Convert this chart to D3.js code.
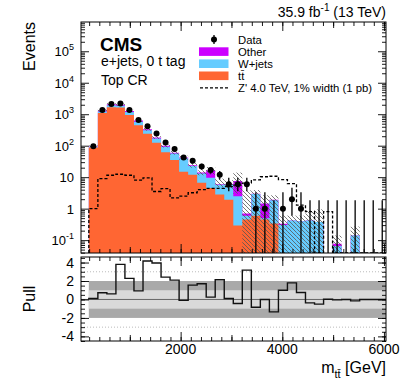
<!DOCTYPE html>
<html>
<head>
<meta charset="utf-8">
<script src="https://cdn.jsdelivr.net/npm/d3@7"></script>
<style>
body{margin:0;background:#fff;}
svg{font-family:"Liberation Sans",Arial,Helvetica,sans-serif;}
</style>
</head>
<body>
<div class="box"></div>
<script>
// bin edges in GeV (33 bins)
const binEdges=[194,372,549,727,904,1082,1260,1437,1615,1792,1970,2148,2325,2503,2680,2858,3036,3213,3391,3568,3746,3924,4101,4279,4456,4634,4812,4989,5167,5344,5522,5700,5877,6055];
const ttbar=[88,1090,1660,1620,950,450,240,125,62,35,15,12,6.7,4.5,2.8,1.9,0.29,0.45,0.6,0.45,0.34,0,0,0,0,0,0,0,0,0,0,0,0];
const wjets=[4,130,250,240,220,130,70,45,30,21,25,10.8,6.5,5,2.9,3.9,2.2,0.15,2.3,0.05,1.5,0.3,0.42,0.4,0.42,0.38,0,0.065,0,0.14,0,0,0];
const other=[3,100,160,150,96,46,23,13,7,4,2,1.2,0.8,7,0.3,0.2,5,0.1,0.1,0.95,0.06,0.03,0,0,0,0,0,0.012,0,0,0,0,0];
const bandLo=[88,1220,1900,1850,1160,570,300,165,88,52,36,20,11.5,12,4.8,4.3,3,0,0,0,0,0,0,0,0,0,0,0,0,0,0,0,0];
const bandHi=[102,1430,2240,2180,1370,680,365,200,110,68,48,28,16.5,21,9,8,14,3.8,3.9,2.65,2.65,0.61,0.6,0.6,0.88,0.95,0,0.14,0,0.27,0,0,0];
const dataObs=[96,1350,2100,2190,1350,650,418,245,126,79,42,33,22,17,12,6,6,6,1,1,0,1,2,1,0,0,0,0,0,0,0,0,0];
const dataLo=[86,1313,2054,2143,1313,625,398,229,115,70,35.6,27.3,17.3,12.9,8.5,3.6,3.6,3.6,0,0,0,0,0.6,0,0,0,0,0,0,0,0,0,0];
const dataHi=[106,1387,2146,2237,1387,676,439,261,138,88,48.5,38.8,26.7,21.2,15.6,9.6,9.6,9.6,3.3,3.3,1.84,3.3,4.64,3.3,1.84,1.84,1.84,1.84,1.84,1.84,1.84,1.84,1.84];
const zprime=[1,9,11.5,12.4,11.5,8,9.5,3.5,4.3,2.2,2.5,3.2,4,4.4,4.4,5,5.6,6.5,8.2,10.3,10.7,8.4,6.2,1.3,0.8,0,0.8,0,0,0,0,0,0];
const pull=[0.1,0.72,0.6,3.8,2.28,0.93,4.16,3.95,2.42,2.1,-0.1,1.55,1.7,0.25,2.13,0.1,-0.43,3.18,-0.84,0,-1.34,1,1.8,0.76,-0.37,-0.5,0.03,-0.05,0,-0.15,0,0,0];
const xLabels=[2000,4000,6000];
const logLabels=[[0.1,'10','-1'],[1,'1',''],[10,'10',''],[100,'10','2'],[1000,'10','3'],[1e4,'10','4'],[1e5,'10','5']];
const pullLabels=[4,2,0,-2,-4];

const L=81,R=386,T=22,B=253,PT=257,PB=341;
const svg=d3.select('.box').append('svg').attr('width',411).attr('height',387);
const x=d3.scaleLinear().domain([40,6040]).range([L,R]);
const y=d3.scaleLog().domain([0.039,8.5e5]).range([B,T]);
const yp=d3.scaleLinear().domain([-4.5,4.6]).range([PB,PT]);
const yMin=y.domain()[0];
const yv=v=>y(Math.max(v,yMin));

const defs=svg.append('defs');
defs.append('clipPath').attr('id','cm').append('rect').attr('x',L).attr('y',T).attr('width',R-L).attr('height',B-T);
defs.append('clipPath').attr('id','cp').append('rect').attr('x',L).attr('y',PT).attr('width',R-L).attr('height',PB-PT);
defs.append('pattern').attr('id','hatch').attr('patternUnits','userSpaceOnUse')
    .attr('width',4).attr('height',4)
    .append('path').attr('d','M-1,-1L5,5M3,-1L5,1M-1,3L1,5')
    .attr('stroke','#555').attr('stroke-width',0.8);

const bins=ttbar.map((t,i)=>({lo:binEdges[i],hi:binEdges[i+1],tt:t,w:wjets[i],o:other[i]}));
const stack=d3.stack().keys(['tt','w','o'])(bins);
const couleur={tt:'#ff6633',w:'#66ccff',o:'#cc00ff'};

const main=svg.append('g').attr('clip-path','url(#cm)');
const stepPts=vals=>{
    const p=vals.map((v,i)=>[binEdges[i],v]);
    p.push([binEdges[vals.length],vals[vals.length-1]]);
    return p;
};
const area=d3.area().curve(d3.curveStepAfter)
    .x(d=>x(d[0])).y0(B).y1(d=>yv(d[1]));
// draw cumulative layers back to front
stack.slice().reverse().forEach(layer=>{
    main.append('path')
        .attr('d',area(stepPts(layer.map(d=>d[1]))))
        .attr('fill',couleur[layer.key]);
});

// uncertainty band
main.selectAll('rect.unc').data(bins.filter((b,i)=>bandHi[i]>0).map(b=>({b,i:bins.indexOf(b)})))
    .enter().append('rect').attr('class','unc')
    .attr('x',d=>x(d.b.lo)).attr('width',d=>x(d.b.hi)-x(d.b.lo))
    .attr('y',d=>yv(bandHi[d.i])).attr('height',d=>yv(bandLo[d.i])-yv(bandHi[d.i]))
    .attr('fill','url(#hatch)');

// Z' signal
const zPts=[[binEdges[0],0]].concat(stepPts(zprime));
zPts.push([binEdges[zprime.length],0]);
main.append('path')
    .attr('d',d3.line().curve(d3.curveStepAfter).x(d=>x(d[0])).y(d=>yv(d[1]))(zPts))
    .attr('fill','none').attr('stroke','#000').attr('stroke-width',1.3)
    .attr('stroke-dasharray','3,2');

// data
const pts=dataObs.map((n,i)=>({n,cx:(binEdges[i]+binEdges[i+1])/2,lo:dataLo[i],hi:dataHi[i]}));
main.selectAll('line.err').data(pts).enter().append('line').attr('class','err')
    .attr('x1',d=>x(d.cx)).attr('x2',d=>x(d.cx))
    .attr('y1',d=>yv(d.lo)).attr('y2',d=>yv(d.hi))
    .attr('stroke','#000').attr('stroke-width',1.3);
main.selectAll('circle').data(pts.filter(d=>d.n>0)).enter().append('circle')
    .attr('cx',d=>x(d.cx)).attr('cy',d=>y(d.n)).attr('r',3).attr('fill','#000');

// ---- pull pad
const pg=svg.append('g').attr('clip-path','url(#cp)');
const xs=x(binEdges[0]);
[[2,'#a9a9a9'],[1,'#d9d9d9']].forEach(([s,c])=>{
    pg.append('rect').attr('x',xs).attr('width',R-xs)
      .attr('y',yp(s)).attr('height',yp(-s)-yp(s)).attr('fill',c);
});
[3,-3].forEach(v=>{
    pg.append('line').attr('x1',L).attr('x2',R).attr('y1',yp(v)).attr('y2',yp(v))
      .attr('stroke','#bbb').attr('stroke-width',1).attr('stroke-dasharray','1,2');
});
pg.append('line').attr('x1',L).attr('x2',R).attr('y1',yp(0)).attr('y2',yp(0))
    .attr('stroke','#666').attr('stroke-width',1);
pg.append('path')
    .attr('d',d3.line().curve(d3.curveStepAfter).x(d=>x(d[0])).y(d=>yp(d[1]))([[binEdges[0],0]].concat(stepPts(pull))))
    .attr('fill','none').attr('stroke','#111').attr('stroke-width',1.4);

// ---- ticks
const tickAx=(ax,tr,size)=>{
    const g=svg.append('g').attr('transform',tr).call(ax.tickSizeInner(size).tickSizeOuter(0).tickFormat(''));
    g.select('.domain').remove();
    g.selectAll('line').attr('stroke','#000').attr('stroke-width',0.9);
};
const xMinor=d3.range(200,6040,200), xMid=[1000,3000,5000], xMaj=[2000,4000,6000];
[[B,PT],[PB,PB]].forEach(()=>{});
[[B,d3.axisBottom,-1],[T,d3.axisTop,-1],[PB,d3.axisBottom,-1],[PT,d3.axisTop,-1]].forEach(([yy,fn])=>{
    tickAx(fn(x).tickValues(xMinor),`translate(0,${yy})`,-4);
    tickAx(fn(x).tickValues(xMid),`translate(0,${yy})`,-6);
    tickAx(fn(x).tickValues(xMaj),`translate(0,${yy})`,-9);
});
const decades=d3.range(-1,6).map(e=>Math.pow(10,e));
const minors=[];
d3.range(-2,6).forEach(e=>d3.range(2,10).forEach(k=>{const v=k*Math.pow(10,e);if(v>yMin&&v<8.5e5)minors.push(v);}));
[[L,d3.axisLeft],[R,d3.axisRight]].forEach(([xx,fn])=>{
    tickAx(fn(y).tickValues(minors),`translate(${xx},0)`,-4);
    tickAx(fn(y).tickValues(decades),`translate(${xx},0)`,-8);
    tickAx(fn(yp).tickValues(d3.range(-4.5,4.6,0.5)),`translate(${xx},0)`,-4);
    tickAx(fn(yp).tickValues([-4,-2,0,2,4]),`translate(${xx},0)`,-8);
});

// frames
[[T,B],[PT,PB]].forEach(([a,b])=>{
    svg.append('rect').attr('x',L).attr('y',a).attr('width',R-L).attr('height',b-a)
       .attr('fill','none').attr('stroke','#000').attr('stroke-width',1);
});

// ---- labels
const lab=svg.append('g').attr('fill','#000');
logLabels.forEach(([v,b,e])=>{
    const t=lab.append('text').attr('x',74).attr('y',y(v)+5).attr('text-anchor','end').attr('font-size',13);
    t.append('tspan').text(b);
    if(e) t.append('tspan').attr('dy',-6).attr('font-size',9).text(e);
});
pullLabels.forEach(v=>{
    lab.append('text').attr('x',74).attr('y',yp(v)+5).attr('text-anchor','end').attr('font-size',14).text(v);
});
xLabels.forEach(v=>{
    lab.append('text').attr('x',x(v)).attr('y',354).attr('text-anchor','middle').attr('font-size',14).text(v);
});
lab.append('text').attr('transform','translate(35,22) rotate(-90)').attr('text-anchor','end')
    .attr('font-size',16).text('Events');
lab.append('text').attr('transform',`translate(35,${(PT+PB)/2}) rotate(-90)`).attr('text-anchor','middle')
    .attr('font-size',16).text('Pull');
const xt=lab.append('text').attr('x',386).attr('y',373).attr('text-anchor','end').attr('font-size',16);
xt.append('tspan').text('m');
xt.append('tspan').attr('dy',5).attr('font-size',11).text('tt\u0304');
xt.append('tspan').attr('dy',-5).text(' [GeV]');
const hd=lab.append('text').attr('x',386).attr('y',17).attr('text-anchor','end').attr('font-size',14);
hd.append('tspan').text('35.9 fb');
hd.append('tspan').attr('dy',-6).attr('font-size',10).text('-1');
hd.append('tspan').attr('dy',6).text(' (13 TeV)');
lab.append('text').attr('x',100).attr('y',50.5).attr('font-size',19).attr('font-weight','bold').text('CMS');
lab.append('text').attr('x',101).attr('y',66).attr('font-size',14).text('e+jets, 0 t tag');
lab.append('text').attr('x',101).attr('y',85).attr('font-size',14).text('Top CR');

// ---- legend
const lg=svg.append('g').attr('transform','translate(199,0)');
const rows=[['Data','data'],['Other','o'],['W+jets','w'],['tt\u0304','tt'],["Z' 4.0 TeV, 1% width (1 pb)",'z']];
rows.forEach(([txt,k],i)=>{
    const cy=39.5+i*12.1;
    if(k==='data'){
        lg.append('line').attr('x1',15).attr('x2',15).attr('y1',cy-4.5).attr('y2',cy+4.5).attr('stroke','#000').attr('stroke-width',1.3);
        lg.append('circle').attr('cx',15).attr('cy',cy).attr('r',3).attr('fill','#000');
    }else if(k==='z'){
        lg.append('line').attr('x1',1).attr('x2',29).attr('y1',cy).attr('y2',cy)
          .attr('stroke','#000').attr('stroke-width',1.3).attr('stroke-dasharray','3,2');
    }else{
        lg.append('rect').attr('x',0).attr('y',cy-4.3).attr('width',29.5).attr('height',8.6).attr('fill',couleur[k]);
    }
    lg.append('text').attr('x',39).attr('y',cy+4).attr('font-size',11.3).text(txt);
});
</script>
</body>
</html>
